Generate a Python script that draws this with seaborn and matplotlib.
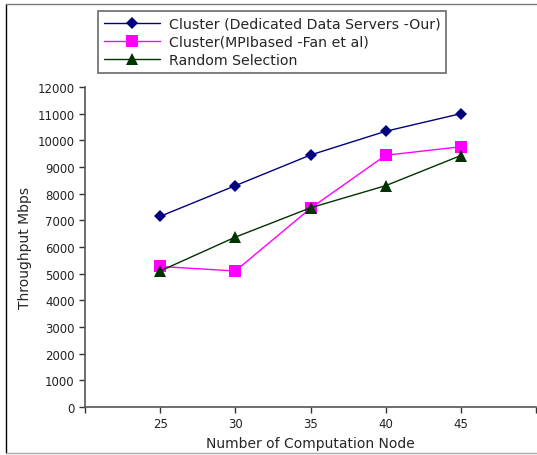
import pandas as pd
import numpy as np
import matplotlib.pyplot as plt
import seaborn as sns
from matplotlib.lines import Line2D

nodes = [25, 30, 35, 40, 45]
dedicated = [7150, 8300, 9450, 10340, 11000]
mpi_based = [5270, 5100, 7450, 9440, 9760]
random_sel = [5100, 6370, 7470, 8300, 9430]

names = ['Cluster (Dedicated Data Servers -Our)',
         'Cluster(MPIbased -Fan et al)',
         'Random Selection']

df = pd.DataFrame({
    'node': nodes * 3,
    'mbps': dedicated + mpi_based + random_sel,
    'series': [names[0]] * 5 + [names[1]] * 5 + [names[2]] * 5,
})

sns.set_style('ticks')
plt.rcParams['font.family'] = ['DejaVu Sans']

fig = plt.figure(figsize=(5.37, 4.56), dpi=100)
ax = fig.add_axes([85 / 537, 48 / 456, 451 / 537, 320 / 456])

palette = {names[0]: '#000080', names[1]: '#ff00ff', names[2]: '#003300'}
markers = {names[0]: 'D', names[1]: 's', names[2]: '^'}
sizes = {names[0]: 6.5, names[1]: 8, names[2]: 8}

for n in names:
    sub = df[df['series'] == n]
    sns.lineplot(data=sub, x='node', y='mbps', ax=ax, color=palette[n],
                 marker=markers[n], markersize=sizes[n], markeredgewidth=0,
                 linewidth=1, label=n, legend=False)

ax.set_xlim(20, 50)
ax.set_ylim(0, 12000)
ax.set_xticks([20, 25, 30, 35, 40, 45, 50])
ax.set_xticklabels(['', '25', '30', '35', '40', '45', ''])
ax.set_yticks(np.arange(0, 12001, 1000))
ax.tick_params(labelsize=8.5, length=4, width=1, color='#333333',
               labelcolor='#222222', direction='out')
ax.set_xlabel('Number of Computation Node', fontsize=10)
ax.set_ylabel('Throughput Mbps', fontsize=10)
sns.despine(ax=ax)
for s in ['left', 'bottom']:
    ax.spines[s].set_color('#555555')
    ax.spines[s].set_linewidth(1.2)

handles, labels = ax.get_legend_handles_labels()
leg = fig.legend(handles, labels, loc='upper left',
                 bbox_to_anchor=(98 / 537, 1 - 12 / 456), fontsize=10.2,
                 fancybox=False, handlelength=4, borderaxespad=0,
                 labelspacing=0.3, borderpad=0.4, handletextpad=0.6)
leg.get_frame().set_edgecolor('#444444')
leg.get_frame().set_linewidth(1.2)

# page border
fig.add_artist(Line2D([6 / 537, 6 / 537], [1 - 5 / 456, 1 - 454 / 456], color='black', lw=1))
fig.add_artist(Line2D([6 / 537, 1], [1 - 5 / 456, 1 - 5 / 456], color='#777777', lw=1))
fig.add_artist(Line2D([6 / 537, 1], [1 - 454 / 456, 1 - 454 / 456], color='#aaaaaa', lw=1))

fig.savefig('out.png', dpi=100)
